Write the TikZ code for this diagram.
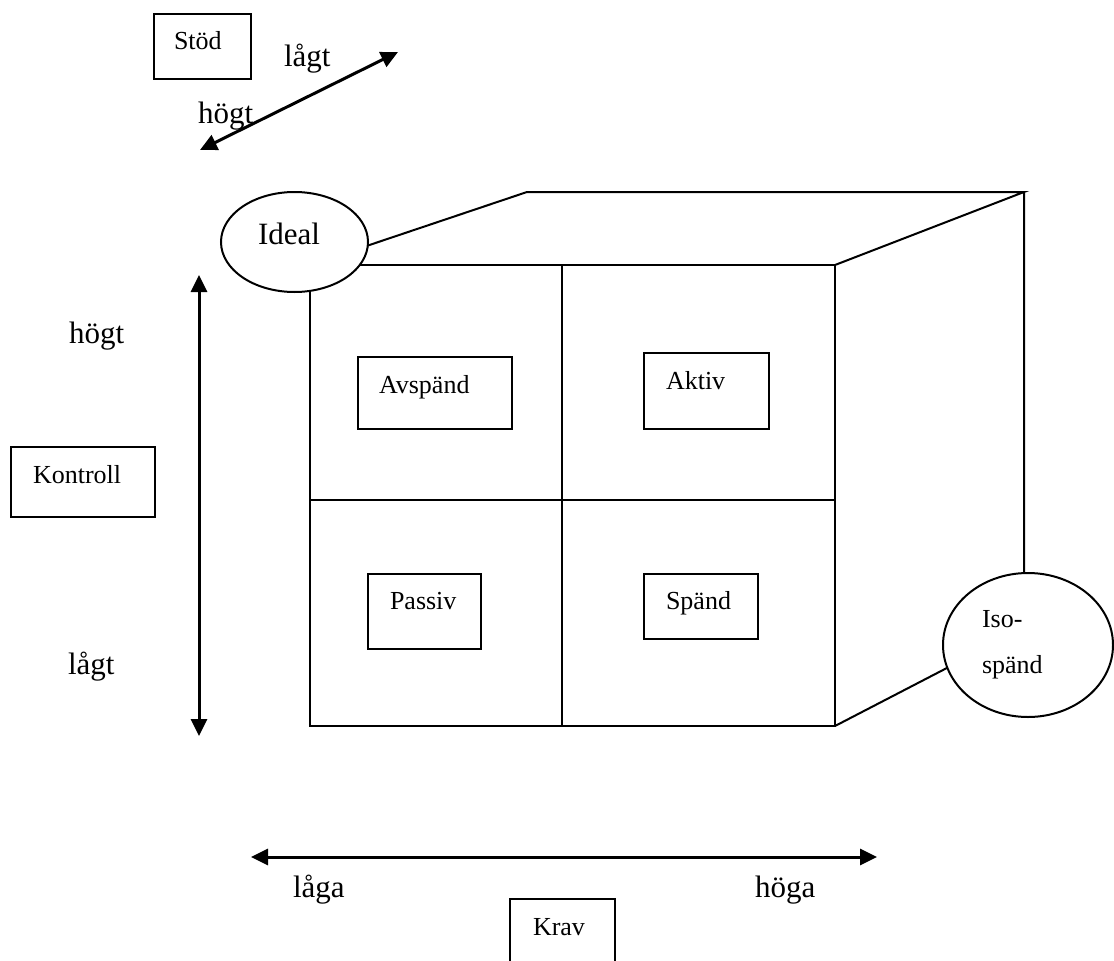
\documentclass[tikz,border=0pt]{standalone}
\usepackage{fontspec}
\setmainfont{Liberation Serif}
\usetikzlibrary{arrows.meta,shapes.geometric}

\newcommand{\boxfont}{\fontsize{26}{31}\selectfont}
\newcommand{\axisfont}{\fontsize{31}{37}\selectfont}

\begin{document}
\begin{tikzpicture}[
  x=1pt, y=-1pt,
  line width=2pt,
  lvl/.style={font=\axisfont, anchor=base west, inner sep=0pt},
  box/.style={draw, anchor=north west, inner ysep=0pt, align=left,
    font=\boxfont},
  bubble/.style={draw, ellipse, fill=white, align=left},
  arr/.style={{Triangle[length=17pt,width=16pt]}-{Triangle[length=17pt,width=16pt]},
    line width=3pt},
]
\useasboundingbox (0,0) rectangle (1114,961);

% Stöd axis
\node[box, inner xsep=20pt, text width=57pt, text height=35pt, text depth=30pt]
  (stod) at (153,13) {Stöd};
\coordinate (stodhi) at (200,150);
\coordinate (stodlo) at (398,52);
\draw[arr] (stodhi) -- (stodlo);
\node[lvl] (stodlow) at (283,66) {lågt};
\node[lvl] (stodhigh) at (197,123) {högt};

% Kontroll axis
\node[box, inner xsep=22pt, text width=100pt, text height=36pt, text depth=34pt]
  (kontroll) at (10,446) {Kontroll};
\coordinate (konhi) at (199,275);
\coordinate (konlo) at (199,736);
\draw[arr] (konhi) -- (konlo);
\node[lvl] (konhigh) at (68,343) {högt};
\node[lvl] (konlow) at (67,674) {lågt};

% the cube
\coordinate (ftl) at (310,265);
\coordinate (ftr) at (835,265);
\coordinate (fbr) at (835,726);
\coordinate (btl) at (527,192);
\coordinate (btr) at (1024,192);
\coordinate (bbr) at (1024,628);
\draw (ftl) rectangle (fbr);
\draw (562,265) -- (562,726);
\draw (310,500) -- (835,500);
\draw (ftl) -- (btl) -- (btr) -- (ftr);
\draw (btr) -- (bbr) -- (fbr);

\node[box, inner xsep=21pt, text width=112pt, text height=36pt, text depth=36pt]
  (avspand) at (357,356) {Avspänd};
\node[box, inner xsep=22pt, text width=81pt, text height=36pt, text depth=40pt]
  (aktiv) at (643,352) {Aktiv};
\node[box, inner xsep=22pt, text width=69pt, text height=35pt, text depth=40pt]
  (passiv) at (367,573) {Passiv};
\node[box, inner xsep=22pt, text width=70pt, text height=35pt, text depth=30pt]
  (spand) at (643,573) {Spänd};

\node[bubble, minimum width=147pt, minimum height=100pt, font=\axisfont,
  text width=73pt, text height=21pt, text depth=16pt] (ideal) at (294.5,242) {Ideal};
\node[bubble, minimum width=170pt, minimum height=144pt,
  font=\fontsize{26}{46}\selectfont, text width=92pt, text height=17pt,
  text depth=53pt] (iso) at (1028,645) {Iso-\\spänd};

% Krav axis
\coordinate (kravlo) at (251,857);
\coordinate (kravhi) at (877,857);
\draw[arr] (kravlo) -- (kravhi);
\node[lvl] (kravlow) at (292,897) {låga};
\node[lvl] (kravhigh) at (754,897) {höga};
\node[box, inner xsep=23pt, text width=59pt, text height=36pt, text depth=40pt]
  (krav) at (509,898) {Krav};

\end{tikzpicture}
\end{document}
